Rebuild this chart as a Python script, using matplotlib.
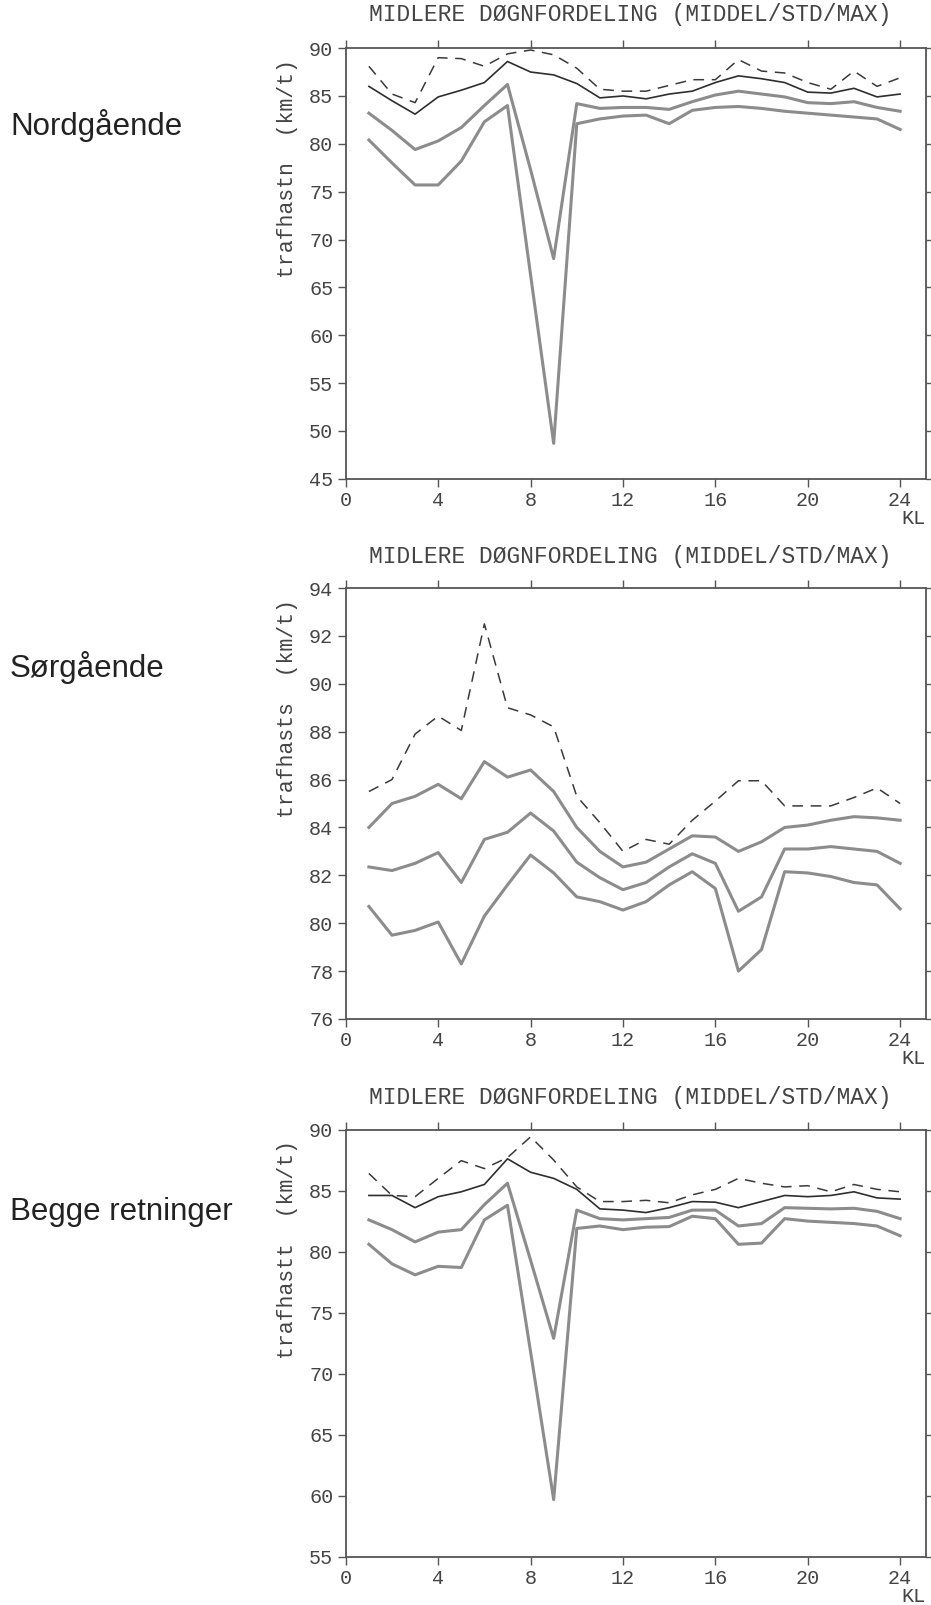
import numpy as np
import matplotlib
matplotlib.use('Agg')
import matplotlib.pyplot as plt

# timer (KL) 1..24
hours = list(range(1, 25))

# Nordgående
nord_max = [88.1, 85.2, 84.3, 89.0, 88.9, 88.1, 89.4, 89.8, 89.3, 87.9, 85.7, 85.5,
            85.5, 86.1, 86.7, 86.7, 88.8, 87.6, 87.4, 86.4, 85.7, 87.6, 86.0, 86.9]
nord_upper = [86.0, 84.5, 83.1, 84.9, 85.6, 86.4, 88.6, 87.5, 87.2, 86.3, 84.8, 85.0,
              84.7, 85.2, 85.5, 86.4, 87.1, 86.8, 86.4, 85.4, 85.3, 85.8, 84.9, 85.2]
nord_mean = [83.2, 81.4, 79.4, 80.3, 81.7, 84.0, 86.2, 77.3, 68.0, 84.2, 83.7, 83.8,
             83.8, 83.6, 84.4, 85.1, 85.5, 85.2, 84.9, 84.3, 84.2, 84.4, 83.8, 83.4]
nord_lower = [80.4, 78.0, 75.7, 75.7, 78.2, 82.3, 84.0, 66.3, 48.7, 82.1, 82.6, 82.9,
              83.0, 82.1, 83.5, 83.8, 83.9, 83.7, 83.4, 83.2, 83.0, 82.8, 82.6, 81.5]

# Sørgående
sor_max = [85.5, 86.0, 87.9, 88.65, 88.05, 92.5, 89.0, 88.7, 88.2, 85.3, 84.2, 83.0,
           83.5, 83.3, 84.3, 85.1, 85.95, 85.95, 84.9, 84.9, 84.9, 85.25, 85.65, 85.0]
sor_upper = [84.0, 85.0, 85.3, 85.8, 85.2, 86.75, 86.1, 86.4, 85.5, 84.0, 83.0, 82.35,
             82.55, 83.1, 83.65, 83.6, 83.0, 83.4, 84.0, 84.1, 84.3, 84.45, 84.4, 84.3]
sor_mean = [82.35, 82.2, 82.5, 82.95, 81.7, 83.5, 83.8, 84.6, 83.85, 82.55, 81.9, 81.4,
            81.7, 82.35, 82.9, 82.5, 80.5, 81.1, 83.1, 83.1, 83.2, 83.1, 83.0, 82.5]
sor_lower = [80.7, 79.5, 79.7, 80.05, 78.3, 80.3, 81.6, 82.85, 82.1, 81.1, 80.9, 80.55,
             80.9, 81.6, 82.15, 81.45, 78.0, 78.9, 82.15, 82.1, 81.95, 81.7, 81.6, 80.6]

# Begge retninger
begge_max = [86.4, 84.6, 84.5, 86.0, 87.45, 86.8, 87.7, 89.4, 87.5, 85.3, 84.1, 84.1,
             84.2, 84.0, 84.65, 85.1, 86.0, 85.6, 85.3, 85.4, 84.9, 85.5, 85.1, 84.9]
begge_upper = [84.6, 84.6, 83.6, 84.5, 84.9, 85.5, 87.6, 86.5, 86.0, 85.1, 83.5, 83.4,
               83.2, 83.6, 84.1, 84.05, 83.6, 84.1, 84.6, 84.5, 84.6, 84.9, 84.4, 84.3]
begge_mean = [82.6, 81.8, 80.8, 81.6, 81.8, 83.85, 85.6, 79.3, 72.9, 83.4, 82.7, 82.6,
              82.7, 82.8, 83.4, 83.4, 82.1, 82.3, 83.6, 83.55, 83.5, 83.55, 83.3, 82.7]
begge_lower = [80.6, 79.0, 78.1, 78.8, 78.7, 82.6, 83.8, 71.8, 59.7, 81.9, 82.1, 81.8,
               82.0, 82.05, 82.9, 82.7, 80.6, 80.7, 82.7, 82.5, 82.4, 82.3, 82.1, 81.3]

row_names = ['Nordgående', 'Sørgående', 'Begge retninger']
y_names = ['trafhastn  (km/t)', 'trafhasts  (km/t)', 'trafhastt  (km/t)']
titel = 'MIDLERE DØGNFORDELING (MIDDEL/STD/MAX)'
y_limits = [(45, 90), (76, 94), (55, 90)]
y_steps = [5, 2, 5]
x_ticks = [0, 4, 8, 12, 16, 20, 24]

data = [
    (nord_max, nord_upper, nord_mean, nord_lower),
    (sor_max, sor_upper, sor_mean, sor_lower),
    (begge_max, begge_upper, begge_mean, begge_lower),
]

mono = 'Liberation Mono'
txt_col = '#444444'
gray = '#8c8c8c'

W, H = 931, 1605
fig = plt.figure(figsize=(W / 100, H / 100), dpi=100)

# posisjoner i piksler (topp, bunn) for hvert panel
left_px, right_px = 345.8, 926.0
panels_px = [(48.1, 478.8), (588.0, 1019.0), (1129.5, 1557.0)]
title_off = [34, 31, 32]
label_y = [126, 667, 1212]

for i, (top, bot) in enumerate(panels_px):
    ax = fig.add_axes([left_px / W, 1 - bot / H, (right_px - left_px) / W, (bot - top) / H])
    mx, up, me, lo = data[i]

    ax.plot(hours, mx, color='#3a3a3a', lw=1.1, linestyle=(0, (7, 5)))
    if i == 1:
        ax.plot(hours, up, color=gray, lw=2.2)
    else:
        ax.plot(hours, up, color='#2e2e2e', lw=1.2)
    ax.plot(hours, me, color=gray, lw=2.2)
    ax.plot(hours, lo, color=gray, lw=2.2)

    ax.set_xlim(0, 25.12)
    ax.set_ylim(*y_limits[i])
    ax.set_xticks(x_ticks)
    ax.set_yticks(np.arange(y_limits[i][0], y_limits[i][1] + 0.1, y_steps[i]))
    ax.tick_params(axis='both', direction='out', length=6, width=1.0, colors='#555555',
                   labelcolor=txt_col, labelsize=14.5, top=True, right=True, pad=3)
    for lab in ax.get_xticklabels() + ax.get_yticklabels():
        lab.set_family(mono)
    for sp in ax.spines.values():
        sp.set_color('#555555')
        sp.set_linewidth(1.3)

    ax.set_ylabel(y_names[i], family=mono, fontsize=15.5, color=txt_col)
    ax.yaxis.set_label_coords(-0.083, 0.72)

    ax.annotate(titel, xy=(0.5, 1), xycoords='axes fraction', xytext=(-6, title_off[i]),
                textcoords='offset pixels', ha='center', va='center',
                family=mono, fontsize=16.5, color=txt_col)
    ax.annotate('KL', xy=(24.6, 0), xycoords=('data', 'axes fraction'), xytext=(0, -40),
                textcoords='offset pixels', ha='center', va='center',
                family=mono, fontsize=14.5, color=txt_col)

    fig.text(10 / W, 1 - label_y[i] / H, row_names[i], ha='left', va='center',
             family='Liberation Sans', fontsize=22.5, color='#222222')

fig.savefig('out.png', dpi=100, facecolor='white')
